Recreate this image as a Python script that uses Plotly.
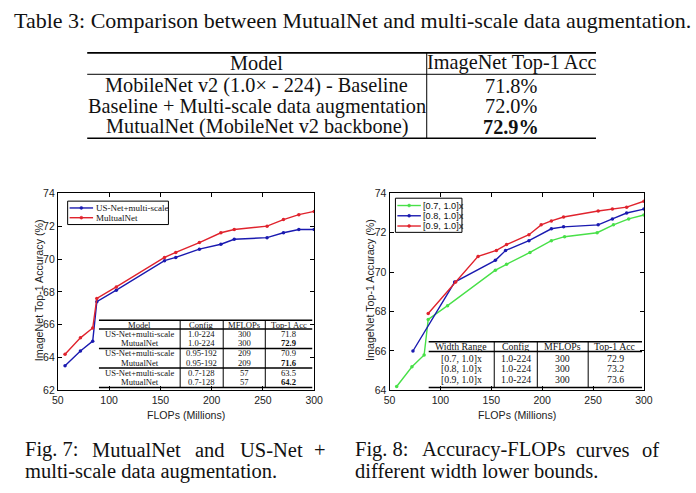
import plotly.graph_objects as go

W, H = 696, 493

# ---------------- data ----------------
flops_a = [57, 72, 84, 88, 107, 154, 165, 188, 209, 222, 254, 270, 285, 300]
usnet_ms = [63.5, 64.4, 65.0, 67.4, 68.1, 69.9, 70.1, 70.6, 70.9, 71.2, 71.3, 71.6, 71.8, 71.8]
mutualnet = [64.2, 65.2, 65.8, 67.6, 68.3, 70.1, 70.4, 71.0, 71.6, 71.8, 72.0, 72.4, 72.7, 72.9]

flops_07 = [57, 72, 84, 88, 107, 154, 165, 188, 209, 222, 254, 270, 285, 300]
acc_07 = [64.2, 65.2, 65.8, 67.6, 68.3, 70.1, 70.4, 71.0, 71.6, 71.8, 72.0, 72.4, 72.7, 72.9]
flops_08 = [73, 114, 154, 164, 187, 209, 221, 255, 269, 283, 300]
acc_08 = [66.0, 69.5, 70.6, 71.1, 71.6, 72.2, 72.3, 72.4, 72.7, 73.0, 73.2]
flops_09 = [88, 115, 137, 155, 165, 187, 199, 209, 221, 255, 269, 283, 300]
acc_09 = [67.9, 69.5, 70.8, 71.1, 71.4, 71.9, 72.4, 72.6, 72.8, 73.1, 73.2, 73.3, 73.6]

table3_header = ["Model", "ImageNet Top-1 Acc"]
table3_models = ["MobileNet v2 (1.0× - 224) - Baseline",
                 "Baseline + Multi-scale data augmentation",
                 "MutualNet (MobileNet v2 backbone)"]
table3_acc = ["71.8%", "72.0%", "72.9%"]
table3_bold = [False, False, True]

tabA_header = ["Model", "Config", "MFLOPs", "Top-1 Acc"]
tabA_rows = [["US-Net+multi-scale", "1.0-224", "300", "71.8"],
             ["MutualNet", "1.0-224", "300", "72.9"],
             ["US-Net+multi-scale", "0.95-192", "209", "70.9"],
             ["MutualNet", "0.95-192", "209", "71.6"],
             ["US-Net+multi-scale", "0.7-128", "57", "63.5"],
             ["MutualNet", "0.7-128", "57", "64.2"]]
tabA_bold = [False, True, False, True, False, True]

tabB_header = ["Width Range", "Config", "MFLOPs", "Top-1 Acc"]
tabB_rows = [["[0.7, 1.0]x", "1.0-224", "300", "72.9"],
             ["[0.8, 1.0]x", "1.0-224", "300", "73.2"],
             ["[0.9, 1.0]x", "1.0-224", "300", "73.6"]]

legend_a = ["US-Net+multi-scale", "MultualNet"]
legend_b = ["[0.7, 1.0]x", "[0.8, 1.0]x", "[0.9, 1.0]x"]

x_title = "FLOPs (Millions)"
y_title = "ImageNet Top-1 Accuracy (%)"
table_title = "Table 3: Comparison between MutualNet and multi-scale data augmentation."
cap7_line1 = ["Fig. 7:", "MutualNet", "and", "US-Net", "+"]
cap7_line2 = "multi-scale data augmentation."
cap8_line1 = ["Fig. 8:", "Accuracy-FLOPs", "curves", "of"]
cap8_line2 = "different width lower bounds."

BLUE = "#1a1ab0"
RED = "#e0232d"
GREEN = "#48e048"
SERIF = "Liberation Serif"
SANS = "Liberation Sans"


def px(x):
    return x / W


def py(y):
    return 1 - y / H


fig = go.Figure()


def line(x, y, color, xa, ya, name):
    fig.add_trace(go.Scatter(x=x, y=y, mode="lines+markers", name=name,
                             line=dict(color=color, width=1.4),
                             marker=dict(color=color, size=3.5),
                             xaxis=xa, yaxis=ya, showlegend=False))


line(flops_a, usnet_ms, BLUE, "x", "y", legend_a[0])
line(flops_a, mutualnet, RED, "x", "y", legend_a[1])
line(flops_07, acc_07, GREEN, "x2", "y2", legend_b[0])
line(flops_08, acc_08, BLUE, "x2", "y2", legend_b[1])
line(flops_09, acc_09, RED, "x2", "y2", legend_b[2])

axis_common = dict(showline=True, linecolor="black", linewidth=1, mirror="allticks",
                   ticks="inside", ticklen=4, tickcolor="black", showgrid=False,
                   zeroline=False, tickfont=dict(family=SANS, size=10.5, color="#222"))

fig.update_layout(
    width=W, height=H, margin=dict(l=0, r=0, t=0, b=0),
    paper_bgcolor="white", plot_bgcolor="white",
    xaxis=dict(domain=[px(53), px(315)], range=[50, 300], dtick=50, anchor="y", **axis_common),
    yaxis=dict(domain=[py(394), py(192)], range=[62, 74], dtick=2, anchor="x", **axis_common),
    xaxis2=dict(domain=[px(392), px(652)], range=[50, 300], dtick=50, anchor="y2", **axis_common),
    yaxis2=dict(domain=[py(394), py(192)], range=[64, 74], dtick=2, anchor="x2", **axis_common),
)

shapes = []
annots = []


def hline(x0, x1, y, w=1.0):
    shapes.append(dict(type="line", xref="paper", yref="paper", x0=px(x0), x1=px(x1),
                       y0=py(y), y1=py(y), line=dict(color="black", width=w)))


def vline(x, y0, y1, w=1.0):
    shapes.append(dict(type="line", xref="paper", yref="paper", x0=px(x), x1=px(x),
                       y0=py(y0), y1=py(y1), line=dict(color="black", width=w)))


def text(s, x, y, size, family=SERIF, xanchor="center", bold=False, color="#111", angle=0):
    if bold:
        s = "<b>" + s + "</b>"
    annots.append(dict(text=s, x=px(x), y=py(y), xref="paper", yref="paper",
                       xanchor=xanchor, yanchor="middle", showarrow=False, textangle=angle,
                       borderpad=0, font=dict(family=family, size=size, color=color)))


# axis titles
for cx in [(53 + 315) / 2, (392 + 652) / 2]:
    text(x_title, cx, 419, 10.6, family=SANS, color="#222")
text(y_title, 34, 291, 10.7, family=SANS, color="#222", angle=-90)
text(y_title, 372, 291, 10.7, family=SANS, color="#222", angle=-90)

# ---------------- Table 3 (top) ----------------
text(table_title, 7, 15, 22, xanchor="left")
hline(83, 603, 48, 1.6)
hline(83, 603, 70, 1.0)
hline(83, 603, 135.5, 1.6)
vline(430, 48, 135.5, 1.0)
c1, c2 = 256.5, 516.5
text(table3_header[0], c1, 58, 20.3)
text(table3_header[1], c2, 58, 20.3)
for i, (m, a, b) in enumerate(zip(table3_models, table3_acc, table3_bold)):
    yy = 81.5 + i * 21.2
    text(m, c1, yy, 20.3)
    text(a, c2, yy, 20.3, bold=b)

# ---------------- Inset table A ----------------
colsA = [95, 178, 222, 265, 313]
centA = [(colsA[i] + colsA[i + 1]) / 2 for i in range(4)]
for yy in [322, 331, 351, 371, 391]:
    hline(95, 313, yy, 1.5)
for cx in colsA[1:-1]:
    vline(cx, 322, 391, 1.0)
for j, h in enumerate(tabA_header):
    text(h, centA[j], 326.5, 8.6)
rowsA_y = [336, 345.5, 356, 365.5, 376, 385.5]
for r, row in enumerate(tabA_rows):
    for j, v in enumerate(row):
        text(v, centA[j], rowsA_y[r], 8.6, bold=(tabA_bold[r] and j == 3))

# ---------------- Inset table B ----------------
colsB = [432, 499, 543, 595, 650]
centB = [(colsB[i] + colsB[i + 1]) / 2 for i in range(4)]
for yy in [344, 354, 391]:
    hline(432, 650, yy, 1.5)
for cx in colsB[1:-1]:
    vline(cx, 344, 391, 1.0)
for j, h in enumerate(tabB_header):
    text(h, centB[j], 349, 9.8)
for r, row in enumerate(tabB_rows):
    for j, v in enumerate(row):
        text(v, centB[j], 361 + r * 11, 9.8)


# ---------------- manual legends ----------------
def legend(x0, y0, x1, y1, names, colors, ys, family, size):
    shapes.append(dict(type="rect", xref="paper", yref="paper", x0=px(x0), x1=px(x1),
                       y0=py(y0), y1=py(y1), line=dict(color="black", width=1),
                       fillcolor="white"))
    for n, c, yy in zip(names, colors, ys):
        shapes.append(dict(type="line", xref="paper", yref="paper", x0=px(x0 + 2), x1=px(x0 + 26),
                           y0=py(yy), y1=py(yy), line=dict(color=c, width=1.4)))
        shapes.append(dict(type="circle", xref="paper", yref="paper",
                           x0=px(x0 + 12.5), x1=px(x0 + 15.5), y0=py(yy - 1.5), y1=py(yy + 1.5),
                           line=dict(color=c, width=0.5), fillcolor=c))
        text(n, x0 + 27.5, yy, size, family=family, xanchor="left")


legend(63, 200, 166, 224, legend_a, [BLUE, RED], [207, 217], SERIF, 9)
legend(398, 197, 466, 232, legend_b, [GREEN, BLUE, RED], [204.5, 215, 225.5], SANS, 9.2)

# ---------------- captions (justified first lines) ----------------
CAP = 20.5
for w_, xx in zip(cap7_line1, [18, 87, 192, 238]):
    text(w_, xx, 455, CAP, xanchor="left")
text(cap7_line1[-1], 328, 455, CAP, xanchor="right")
text(cap7_line2, 18, 477, CAP, xanchor="left")
for w_, xx in zip(cap8_line1[:-1], [356, 424, 582]):
    text(w_, xx, 455, CAP, xanchor="left")
text(cap8_line1[-1], 668, 455, CAP, xanchor="right")
text(cap8_line2, 356, 477, CAP, xanchor="left")

fig.update_layout(shapes=shapes, annotations=annots)
fig.write_html("out.html")
